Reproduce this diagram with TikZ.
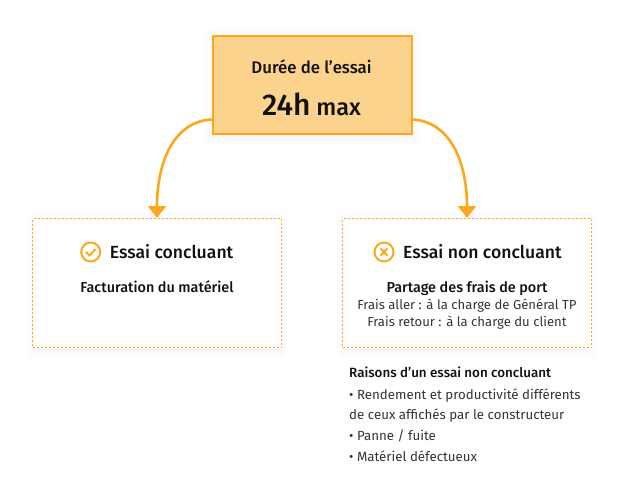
\documentclass[tikz,border=0pt]{standalone}
\usepackage{fontspec}
\setmainfont{Fira Sans}
\newfontfamily\medfont{Fira Sans Medium}
\usepackage{xcolor}
\usetikzlibrary{arrows.meta}
\usetikzlibrary{positioning}

\definecolor{essaiorange}{HTML}{FBA81E}
\definecolor{essaifill}{HTML}{FBD38D}
\definecolor{essaitext}{HTML}{111111}

\tikzset{
  mainbox/.style={draw=essaiorange, line width=2pt, fill=essaifill, minimum width=199pt, minimum height=98pt},
  resultbox/.style={draw=essaiorange, line width=1pt, dash pattern=on 2pt off 2pt, fill=white, minimum width=249pt, minimum height=129pt},
  iconring/.style={draw=essaiorange, line width=2pt, circle, minimum size=19pt, inner sep=0pt},
  iconmark/.style={draw=essaiorange, line width=2pt},
  flowarrow/.style={draw=essaiorange, line width=2.6pt, -{Triangle[width=18pt,length=12pt]}},
  heading/.style={font=\fontsize{17.6}{20}\medfont, text=essaitext, inner sep=0pt},
  boldline/.style={font=\fontsize{14.4}{16}\medfont, text=essaitext, inner sep=0pt},
  plainline/.style={font=\fontsize{13.1}{16}\selectfont, text=essaitext!85, inner sep=0pt},
  listline/.style={plainline, font=\fontsize{13.3}{16}\selectfont, anchor=west},
  softshadow/.style={fill=black, opacity=0.005}
}

\begin{document}
\begin{tikzpicture}[x=1pt, y=-1pt]

\useasboundingbox (0,0) rectangle (624,491);
\fill[white] (0,0) rectangle (624,491);

% soft shadows below the boxes
\foreach \s in {0,1,...,9} {
  \fill[softshadow] (214-\s,38-\s) rectangle (410+\s,136+\s);
  \fill[softshadow] (36-\s,222-\s) rectangle (278+\s,349+\s);
  \fill[softshadow] (346-\s,222-\s) rectangle (588+\s,349+\s);
}

% Draw the three boxes
\node[mainbox] (duree) at (312,85) {};
\node[resultbox] (concluant) at (157,283) {};
\node[resultbox] (nonconcluant) at (467,283) {};

% top box texts
\node[font=\fontsize{16.8}{18}\medfont, text=essaitext, inner sep=0pt] (dureetitle) at (311.5,67) {Durée de l’essai};
\node[font=\fontsize{23.5}{26}\medfont, text=essaitext, inner sep=0pt] (dureevalue) at (311.5,104) {{\fontsize{30}{30}\medfont 24h} max};

% arrows start on the sides of the top box
\coordinate (startleft) at (212,119.5);
\coordinate (startright) at (412,119.5);
\draw[flowarrow] (startleft) .. controls (175,121) and (157,160) .. (concluant.north);
\draw[flowarrow] (startright) .. controls (449,121) and (467,160) .. (nonconcluant.north);

% left box
\node[iconring] (iconok) at (90.7,252) {};
\draw[iconmark] (86,252) -- (89.5,255.5) -- (95.5,249);
\node[heading, right=8.5pt of iconok] (titleok) {Essai concluant};
\node[boldline] (factu) at (157,286.5) {Facturation du matériel};

% right box
\node[iconring] (iconko) at (384,252) {};
\draw[iconmark] (380.5,248.5) -- (387.5,255.5);
\draw[iconmark] (387.5,248.5) -- (380.5,255.5);
\node[heading, right=8.5pt of iconko] (titleko) {Essai non concluant};
\node[boldline] (partage) at (467,288) {Partage des frais de port};
\node[plainline] (aller) at (467,306) {Frais aller : à la charge de Général TP};
\node[plainline] (retour) at (467,323) {Frais retour : à la charge du client};

% list under the right box
\node[boldline, font=\fontsize{13.4}{15}\medfont, anchor=west] (raisons) at (349,372) {Raisons d’un essai non concluant};
\node[listline] (raison1) at (349,396) {• Rendement et productivité différents};
\node[listline] (raison2) at (349,416) {de ceux affichés par le constructeur};
\node[listline] (raison3) at (349,436) {• Panne / fuite};
\node[listline] (raison4) at (349,456) {• Matériel défectueux};

\end{tikzpicture}
\end{document}
